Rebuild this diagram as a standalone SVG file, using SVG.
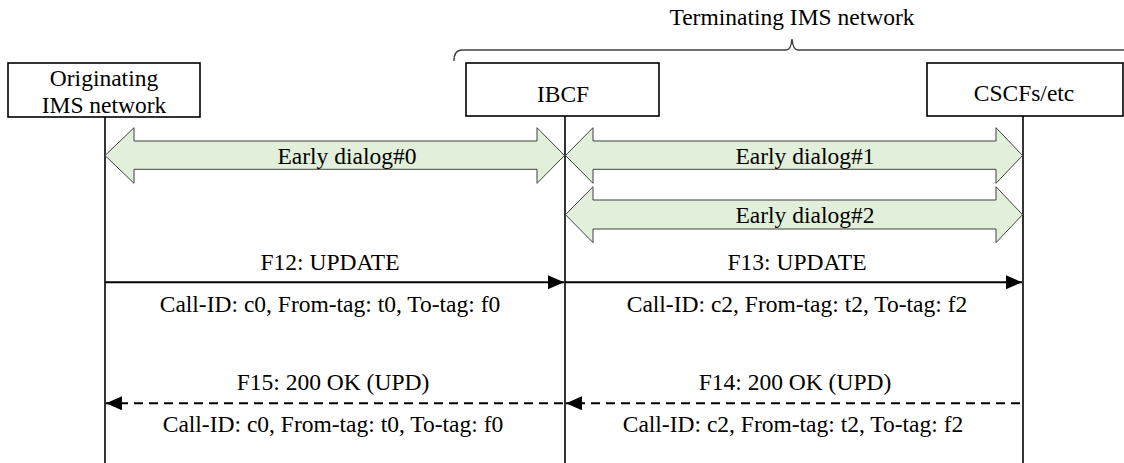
<svg xmlns="http://www.w3.org/2000/svg" width="1124" height="463" viewBox="0 0 1124 463">
<style>
.t{font-family:'Liberation Serif','Times New Roman',Times,serif;font-size:23.5px;fill:#000;text-anchor:middle}
.box{fill:#fff;stroke:#000;stroke-width:1.6}
.life{stroke:#000;stroke-width:1.6;fill:none}
.blk{fill:#e2efda;stroke:#404040;stroke-width:1}
.msg{stroke:#000;stroke-width:2;fill:none}
.dash{stroke-dasharray:9 6}
.brace{fill:none;stroke:#404040;stroke-width:1.4}
</style>
<defs>
<marker id="ah" markerUnits="userSpaceOnUse" markerWidth="17" markerHeight="15" refX="16" refY="7" orient="auto">
<path d="M0,0 L16,7 L0,14 Z" fill="#000"/>
</marker>
</defs>
<g font-family="Liberation Serif, Times New Roman, serif" font-size="23.5" text-anchor="middle">
<g id="domain-terminating">
<path class="brace" d="M454,61 Q454,50 462,50 L786,50 Q791,50 792,39 Q793,50 798,50 L1124,50"/>
<text class="t" x="792" y="25">Terminating IMS network</text>
</g>
<g id="node-originating">
<rect class="box" x="8" y="63" width="192" height="54"/>
<text class="t" x="104" y="86">Originating</text>
<text class="t" x="104" y="113">IMS network</text>
<line class="life" x1="105" y1="117" x2="105" y2="463"/>
</g>
<g id="node-ibcf">
<rect class="box" x="466" y="63" width="193" height="53"/>
<text class="t" x="563" y="102">IBCF</text>
<line class="life" x1="565" y1="116" x2="565" y2="463"/>
</g>
<g id="node-cscf">
<rect class="box" x="927" y="63" width="196" height="53"/>
<text class="t" x="1024" y="101">CSCFs/etc</text>
<line class="life" x1="1023" y1="116" x2="1023" y2="463"/>
</g>
<g id="connectors">
<g id="dialog0">
<path class="blk" d="M105,155.5 L134,127.7 L134,141 L537,141 L537,127.7 L564.5,155.5 L537,183.3 L537,169.3 L134,169.3 L134,183.3 Z"/>
<text class="t" x="347" y="164">Early dialog#0</text>
</g>
<g id="dialog1">
<path class="blk" d="M565.5,155.5 L593,127.7 L593,141 L996,141 L996,127.7 L1022.5,155.5 L996,183.3 L996,169.3 L593,169.3 L593,183.3 Z"/>
<text class="t" x="805" y="164">Early dialog#1</text>
</g>
<g id="dialog2">
<path class="blk" d="M565.5,214.7 L593,186.7 L593,200 L996,200 L996,186.7 L1022.5,214.7 L996,242.7 L996,229 L593,229 L593,242.7 Z"/>
<text class="t" x="805" y="223">Early dialog#2</text>
</g>
<g id="f12">
<line class="msg" x1="105" y1="282.3" x2="564" y2="282.3" marker-end="url(#ah)"/>
<text class="t" x="330" y="270">F12: UPDATE</text>
<text class="t" x="330" y="311.5">Call-ID: c0, From-tag: t0, To-tag: f0</text>
</g>
<g id="f13">
<line class="msg" x1="565" y1="282.3" x2="1022" y2="282.3" marker-end="url(#ah)"/>
<text class="t" x="797" y="270">F13: UPDATE</text>
<text class="t" x="797" y="311.5">Call-ID: c2, From-tag: t2, To-tag: f2</text>
</g>
<g id="f14">
<line class="msg dash" x1="1020" y1="403.3" x2="566" y2="403.3" marker-end="url(#ah)"/>
<text class="t" x="795" y="390">F14: 200 OK (UPD)</text>
<text class="t" x="793" y="431.5">Call-ID: c2, From-tag: t2, To-tag: f2</text>
</g>
<g id="f15">
<line class="msg dash" x1="563" y1="403.3" x2="106" y2="403.3" marker-end="url(#ah)"/>
<text class="t" x="333" y="390">F15: 200 OK (UPD)</text>
<text class="t" x="333" y="431.5">Call-ID: c0, From-tag: t0, To-tag: f0</text>
</g>
</g>
</g>
</svg>
